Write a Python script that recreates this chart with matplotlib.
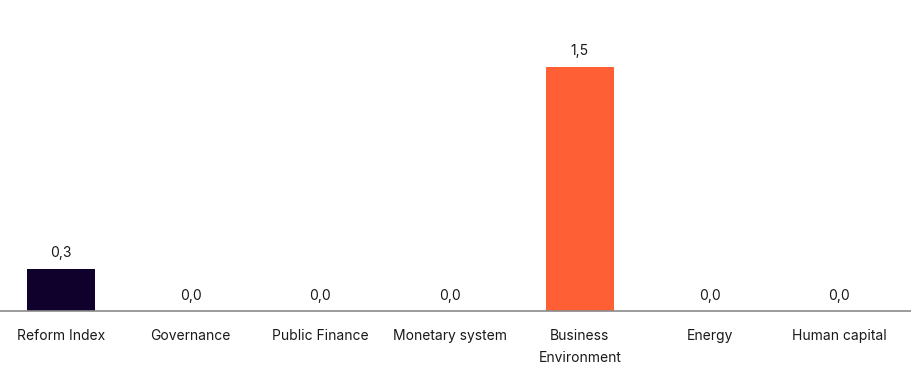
import matplotlib.pyplot as plt

categories = ["Reform Index", "Governance", "Public Finance", "Monetary system",
              "Business\nEnvironment", "Energy", "Human capital"]
values = [0.26, 0.0, 0.0, 0.0, 1.5, 0.0, 0.0]
colors = ["#10002c", "#10002c", "#10002c", "#10002c", "#ff5f35", "#10002c", "#10002c"]

plt.rcParams['font.family'] = ['Inter', 'DejaVu Sans']

fig = plt.figure(figsize=(9.12, 3.77), dpi=100)
ax = fig.add_axes([0, 0.175, 1, 0.825])

x = list(range(len(categories)))
bars = ax.bar(x, values, width=0.525, color=colors)

for xi, v in zip(x, values):
    ax.annotate(f"{v:.1f}".replace(".", ","), (xi, v), xytext=(0, 6),
                textcoords="offset points", ha="center", va="bottom",
                fontsize=10, color="#1a1a1a")

ax.set_xlim(-0.47, 6.56)
ax.set_ylim(0, 1.91)
ax.set_xticks(x)
ax.set_xticklabels(categories, fontsize=10, color="#1a1a1a", linespacing=1.75)
ax.tick_params(axis="x", length=0, pad=13)
ax.set_yticks([])

for side in ["top", "right", "left"]:
    ax.spines[side].set_visible(False)
ax.spines["bottom"].set_color("#8a8a8a")
ax.spines["bottom"].set_linewidth(1.2)

fig.savefig("out.png", dpi=100)
